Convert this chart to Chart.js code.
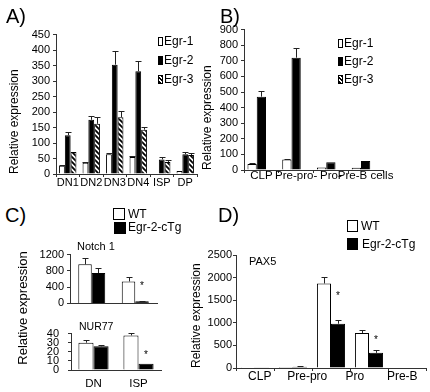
<!DOCTYPE html>
<html>
<head>
<meta charset="utf-8">
<script src="https://cdn.jsdelivr.net/npm/chart.js@4.4.0/dist/chart.umd.min.js"></script>
<style>
  body { margin: 0; background: #fff; }
  #fig { position: relative; width: 430px; height: 392px; overflow: hidden; font-family: 'Liberation Sans', Arial, sans-serif; color: #000; }
  #fig canvas { position: absolute; }
  .t { position: absolute; white-space: nowrap; line-height: 1; }
  .box { position: absolute; box-sizing: border-box; border: 1px solid #000; background: #fff; }
  .blk { background: #000; }
  .hatch { background: repeating-linear-gradient(45deg, #000 0 1.5px, #fff 1.5px 3px); }
</style>
</head>
<body>
<div id="fig">
  <canvas id="chartA" width="205" height="175" style="left:0;top:25px"></canvas>
  <canvas id="chartB" width="234" height="180" style="left:196px;top:20px"></canvas>
  <canvas id="chartC1" width="160" height="68" style="left:10px;top:245px"></canvas>
  <canvas id="chartC2" width="160" height="74" style="left:10px;top:318px"></canvas>
  <canvas id="chartD" width="245" height="147" style="left:185px;top:245px"></canvas>

  <div class="t" style="left:6px;top:6px;font-size:20px">A)</div>
  <div class="t" style="left:220px;top:6px;font-size:20px">B)</div>
  <div class="t" style="left:5px;top:205px;font-size:20px">C)</div>
  <div class="t" style="left:218px;top:205px;font-size:20px">D)</div>

  <!-- legend A -->
  <div class="box" style="left:158px;top:37px;width:5px;height:9px"></div>
  <div class="t" style="left:164px;top:35px;font-size:12px">Egr-1</div>
  <div class="box blk" style="left:158px;top:56px;width:5px;height:9px"></div>
  <div class="t" style="left:164px;top:54px;font-size:12px">Egr-2</div>
  <div class="box hatch" style="left:158px;top:75px;width:5px;height:9px"></div>
  <div class="t" style="left:164px;top:73px;font-size:12px">Egr-3</div>

  <!-- legend B -->
  <div class="box" style="left:338px;top:39px;width:5px;height:9px"></div>
  <div class="t" style="left:344px;top:37px;font-size:12px">Egr-1</div>
  <div class="box blk" style="left:338px;top:57px;width:5px;height:9px"></div>
  <div class="t" style="left:344px;top:55px;font-size:12px">Egr-2</div>
  <div class="box hatch" style="left:338px;top:75px;width:5px;height:9px"></div>
  <div class="t" style="left:344px;top:73px;font-size:12px">Egr-3</div>

  <!-- legend C -->
  <div class="box" style="left:113px;top:208px;width:12px;height:12px"></div>
  <div class="t" style="left:128px;top:208px;font-size:12px">WT</div>
  <div class="box blk" style="left:114px;top:222px;width:12px;height:12px"></div>
  <div class="t" style="left:128px;top:221px;font-size:12px">Egr-2-cTg</div>

  <!-- legend D -->
  <div class="box" style="left:347px;top:220px;width:11px;height:12px"></div>
  <div class="t" style="left:361px;top:220px;font-size:12px">WT</div>
  <div class="box blk" style="left:347px;top:238px;width:11px;height:12px"></div>
  <div class="t" style="left:362px;top:238px;font-size:12px">Egr-2-cTg</div>

  <div class="t" style="left:77px;top:241px;font-size:11px">Notch 1</div>
  <div class="t" style="left:79px;top:321px;font-size:10.5px">NUR77</div>
  <div class="t" style="left:249px;top:256px;font-size:11px">PAX5</div>
  <div class="t" style="left:22px;top:308px;font-size:13px;transform:translate(-50%,-50%) rotate(-90deg)">Relative expression</div>
</div>

<script>
// A) thymocyte stages
const thymusStages = ['DN1', 'DN2', 'DN3', 'DN4', 'ISP', 'DP']
const aEgr1 = [27, 36, 64, 55, 2, 10]
const aEgr1Err = [3, 2, 3, 3, 0, 0]
const aEgr2 = [125, 175, 353, 332, 47, 64]
const aEgr2Err = [12, 13, 45, 32, 8, 7]
const aEgr3 = [71, 162, 183, 143, 39, 61]
const aEgr3Err = [0, 21, 19, 8, 6, 7]
const aTicks = [0, 50, 100, 150, 200, 250, 300, 350, 400, 450]

// B) B cell stages
const bCells = ['CLP', 'Pre-pro-', 'Pro-', 'Pre-B cells']
const bEgr1 = [38, 68, 16, 14]
const bEgr1Err = [5, 4, 0, 0]
const bEgr2 = [470, 720, 50, 57]
const bEgr2Err = [38, 60, 0, 0]
const bEgr3 = [0, 4, 0, 0]
const bTicks = [0, 100, 200, 300, 400, 500, 600, 700, 800, 900]

// C) WT vs Egr-2-cTg
const cStages = ['DN', 'ISP']
const notchWT = [960, 540]
const notchWTErr = [155, 115]
const notchTg = [745, 50]
const notchTgErr = [125, 12]
const notchStar = [null, 500]
const notchTicks = [0, 400, 800, 1200]
const nurWT = [30, 38]
const nurWTErr = [3, 3]
const nurTg = [26, 7]
const nurTgErr = [1.5, 0]
const nurStar = [null, 19]
const nurTicks = [0, 10, 20, 30, 40]

// D) PAX5
const dSlots = ['CLP', 'Pre-pro', '', 'Pro', 'Pre-B']
const dLabels = ['CLP', 'Pre-pro', 'Pro', 'Pre-B']
const paxWT = [5, 20, 1870, 775, 0]
const paxWTErr = [0, 0, 150, 55, 0]
const paxTg = [6, 30, 980, 335, 0]
const paxTgErr = [0, 5, 90, 60, 0]
const paxStar = [null, null, 1650, 665, null]
const paxTicks = [0, 500, 1000, 1500, 2000, 2500]

const AX = '#333'
Chart.defaults.font.family = "'Liberation Sans', Arial, sans-serif"
Chart.defaults.color = '#000'
Chart.defaults.animation = false
Chart.defaults.responsive = false
Chart.defaults.plugins.legend.display = false
Chart.defaults.plugins.tooltip.enabled = false

// error bars (upper only) and significance stars
Chart.register({
  id: 'errorBars',
  afterDatasetsDraw(chart) {
    const ctx = chart.ctx
    const y = chart.scales.y
    ctx.save()
    chart.data.datasets.forEach((ds, i) => {
      chart.getDatasetMeta(i).data.forEach((bar, j) => {
        const e = ds.err && ds.err[j]
        if (e) {
          const x = Math.round(bar.x) + 0.5
          const top = Math.round(y.getPixelForValue(ds.data[j] + e)) + 0.5
          ctx.strokeStyle = '#222'
          ctx.lineWidth = 1
          ctx.beginPath()
          ctx.moveTo(x, bar.y)
          ctx.lineTo(x, top)
          ctx.moveTo(x - 3, top)
          ctx.lineTo(x + 3, top)
          ctx.stroke()
        }
        const s = ds.star && ds.star[j]
        if (s != null) {
          ctx.fillStyle = '#000'
          ctx.font = "10px 'Liberation Sans', Arial"
          ctx.textAlign = 'center'
          ctx.textBaseline = 'alphabetic'
          ctx.fillText('*', bar.x, y.getPixelForValue(s) + 5.5)
        }
      })
    })
    ctx.restore()
  }
})

function hatch() {
  const c = document.createElement('canvas')
  c.width = 5
  c.height = 5
  const g = c.getContext('2d')
  g.fillStyle = '#fff'
  g.fillRect(0, 0, 5, 5)
  g.strokeStyle = '#000'
  g.lineWidth = 1.8
  g.beginPath()
  g.moveTo(-1, -1); g.lineTo(6, 6)
  g.moveTo(-1, 4); g.lineTo(1, 6)
  g.moveTo(4, -1); g.lineTo(6, 1)
  g.stroke()
  return g.createPattern(c, 'repeat')
}

function yScale(ticks, width, pad, titlePad) {
  return {
    min: ticks[0],
    max: ticks[ticks.length - 1],
    afterBuildTicks: s => { s.ticks = ticks.map(v => ({ value: v })) },
    afterFit: s => { s.width = width },
    grid: { drawOnChartArea: false, tickLength: 3, color: AX },
    border: { color: AX },
    ticks: { autoSkip: false, padding: pad, font: { size: 11 }, callback: v => String(v) },
    title: titlePad == null ? { display: false } : {
      display: true, text: 'Relative expression', align: 'start',
      font: { size: 12 }, padding: { top: titlePad, bottom: 0 }
    }
  }
}

function xScale(height, labels, pad, size) {
  return {
    afterFit: s => { s.height = height },
    grid: { drawOnChartArea: false, drawTicks: labels != null, tickLength: 3, color: AX },
    border: { color: AX },
    ticks: { display: !!labels, autoSkip: false, maxRotation: 0, padding: pad, font: { size: size || 11 } }
  }
}

const white = { backgroundColor: '#fff', borderColor: '#000', borderWidth: 1 }
const black = { backgroundColor: '#000', borderColor: '#000', borderWidth: 1 }

new Chart(document.getElementById('chartA'), {
  type: 'bar',
  data: {
    labels: thymusStages,
    datasets: [
      { label: 'Egr-1', data: aEgr1, err: aEgr1Err, ...white },
      { label: 'Egr-2', data: aEgr2, err: aEgr2Err, ...black },
      { label: 'Egr-3', data: aEgr3, err: aEgr3Err, backgroundColor: hatch(), borderColor: '#000', borderWidth: 1 }
    ]
  },
  options: {
    layout: { padding: { top: 8, right: 8, left: 0, bottom: 0 } },
    datasets: { bar: { categoryPercentage: 0.74, barPercentage: 1 } },
    scales: { x: xScale(26, true, -1, 11), y: yScale(aTicks, 56, 3, 7) }
  }
})

new Chart(document.getElementById('chartB'), {
  type: 'bar',
  data: {
    labels: bCells,
    datasets: [
      { label: 'Egr-1', data: bEgr1, err: bEgr1Err, ...white },
      { label: 'Egr-2', data: bEgr2, err: bEgr2Err, ...black },
      { label: 'Egr-3', data: bEgr3, backgroundColor: hatch(), borderColor: '#000', borderWidth: 1 }
    ]
  },
  options: {
    layout: { padding: { top: 8, right: 47, left: 0, bottom: 0 } },
    datasets: { bar: { categoryPercentage: 0.8, barPercentage: 1 } },
    scales: { x: xScale(30, true, -4, 11.5), y: yScale(bTicks, 48, 3, 4) }
  }
})

new Chart(document.getElementById('chartC1'), {
  type: 'bar',
  data: {
    labels: cStages,
    datasets: [
      { label: 'WT', data: notchWT, err: notchWTErr, ...white },
      { label: 'Egr-2-cTg', data: notchTg, err: notchTgErr, star: notchStar, ...black }
    ]
  },
  options: {
    layout: { padding: { top: 8, right: 13, left: 0, bottom: 0 } },
    datasets: { bar: { categoryPercentage: 0.62, barPercentage: 1 } },
    scales: { x: xScale(8, null, 0), y: yScale(notchTicks, 60, 3) }
  }
})

new Chart(document.getElementById('chartC2'), {
  type: 'bar',
  data: {
    labels: cStages,
    datasets: [
      { label: 'WT', data: nurWT, err: nurWTErr, ...white },
      { label: 'Egr-2-cTg', data: nurTg, err: nurTgErr, star: nurStar, ...black }
    ]
  },
  options: {
    layout: { padding: { top: 8, right: 9, left: 0, bottom: 0 } },
    datasets: { bar: { categoryPercentage: 0.67, barPercentage: 1 } },
    scales: {
      x: { ...xScale(22, true, 7, 11.5), grid: { drawOnChartArea: false, drawTicks: false, color: AX } },
      y: yScale(nurTicks, 61, 9)
    }
  }
})

new Chart(document.getElementById('chartD'), {
  type: 'bar',
  data: {
    labels: dSlots,
    datasets: [
      { label: 'WT', data: paxWT, err: paxWTErr, ...white },
      { label: 'Egr-2-cTg', data: paxTg, err: paxTgErr, star: paxStar, ...black }
    ]
  },
  options: {
    layout: { padding: { top: 10, right: 4, left: 0, bottom: 0 } },
    datasets: { bar: { categoryPercentage: 0.74, barPercentage: 1 } },
    scales: {
      x: { ...xScale(1, false, 0), grid: { drawOnChartArea: false, tickLength: 3, color: AX } },
      x2: {
        type: 'category', position: 'bottom', weight: 1, labels: dLabels, offset: true,
        afterFit: s => { s.height = 23 },
        grid: { display: false, drawTicks: false },
        border: { display: false },
        ticks: { autoSkip: false, maxRotation: 0, padding: 0, font: { size: 12 } }
      },
      y: yScale(paxTicks, 51, 1, 4)
    }
  }
})
</script>
</body>
</html>
